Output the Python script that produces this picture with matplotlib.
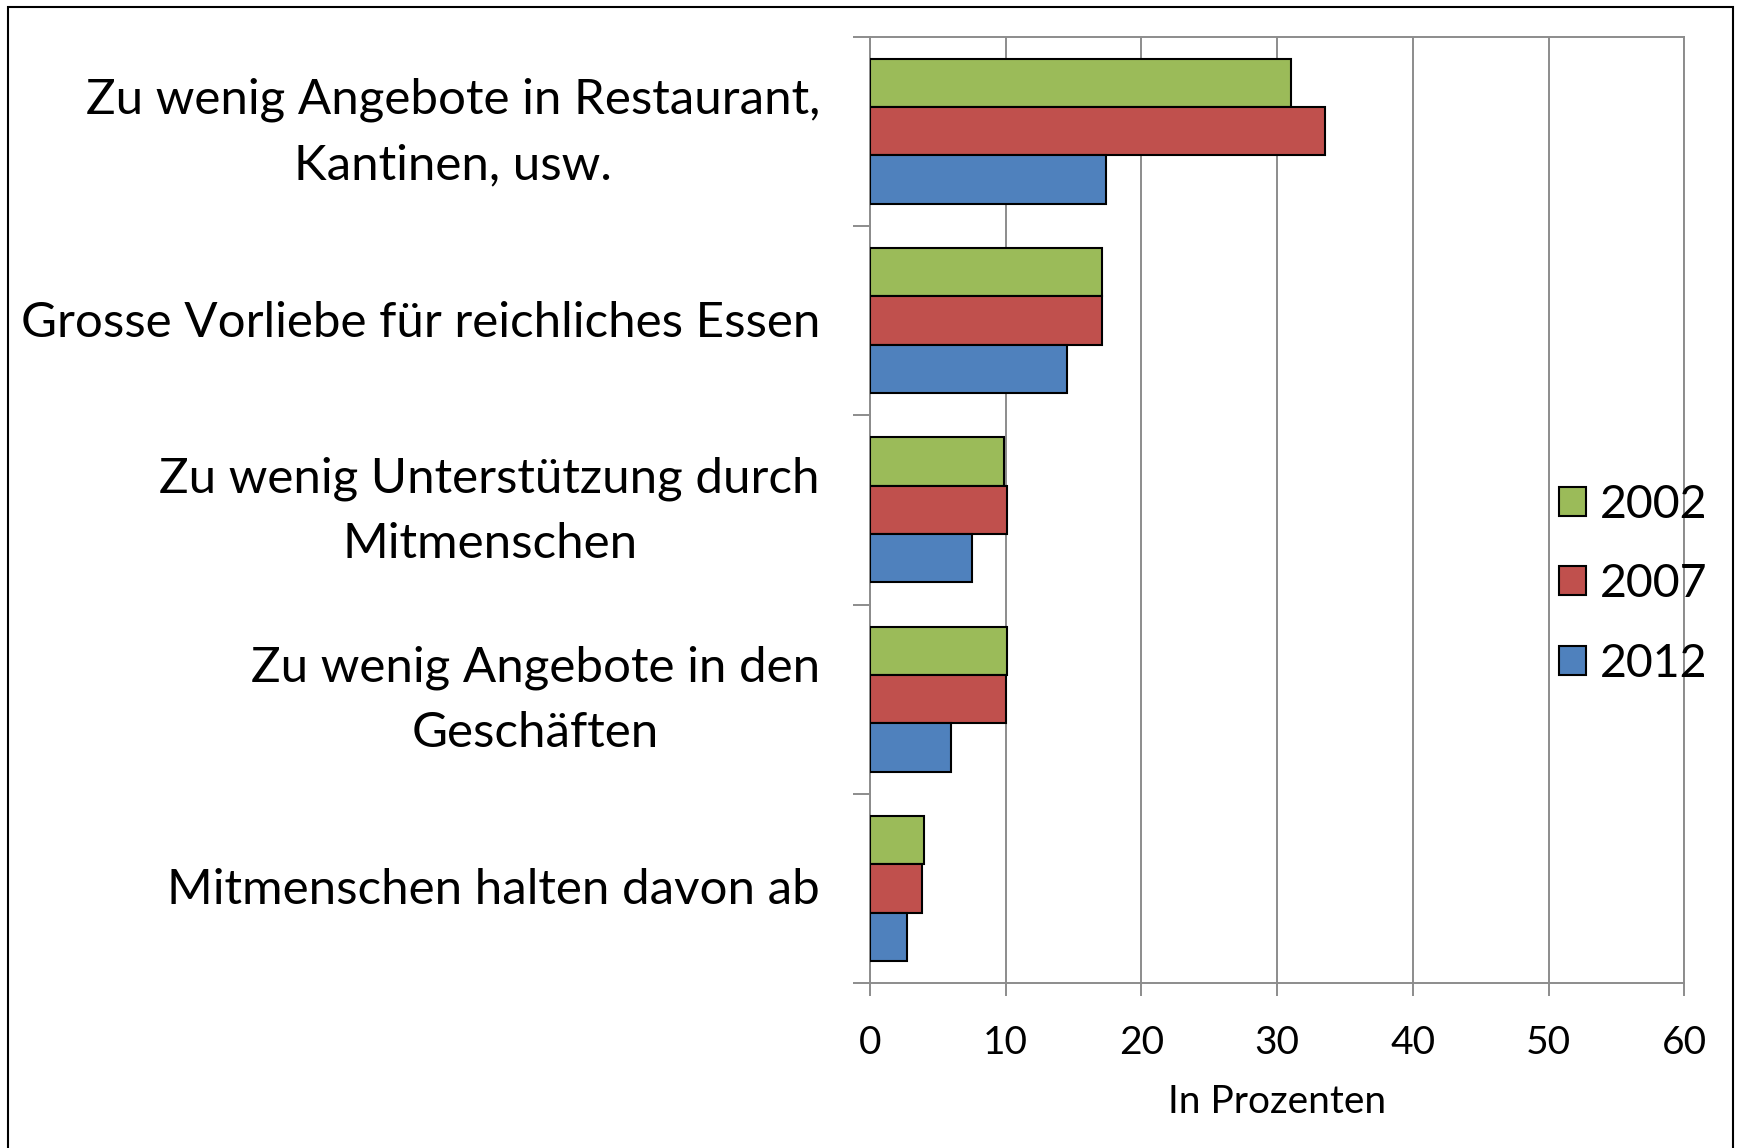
import matplotlib
matplotlib.use("Agg")
import matplotlib.pyplot as plt
from matplotlib.patches import Rectangle
from matplotlib.ticker import FixedLocator
from matplotlib.transforms import ScaledTranslation
import numpy as np

plt.rcParams['font.family'] = ['Lato', 'DejaVu Sans']

categories = [
    "Zu wenig Angebote in Restaurant,\nKantinen, usw.",
    "Grosse Vorliebe für reichliches Essen",
    "Zu wenig Unterstützung durch\nMitmenschen",
    "Zu wenig Angebote in den\nGeschäften",
    "Mitmenschen halten davon ab",
]
years = ["2002", "2007", "2012"]
values_2002 = [31.0, 17.1, 9.9, 10.1, 4.0]
values_2007 = [33.5, 17.1, 10.1, 10.0, 3.8]
values_2012 = [17.4, 14.5, 7.5, 6.0, 2.7]
colors = ["#9BBB59", "#C0504D", "#4F81BD"]
xticks = [0, 10, 20, 30, 40, 50, 60]
xlabel = "In Prozenten"

fig = plt.figure(figsize=(17.4, 11.48), dpi=100)
ax = fig.add_axes([0.5, 0.1437, 0.468, 0.8243])

y = np.arange(len(categories))
h = 0.255
series = [values_2002, values_2007, values_2012]
for i, (vals, col, yr) in enumerate(zip(series, colors, years)):
    ax.barh(y + (i - 1) * h, vals, height=h, color=col, edgecolor="black",
            linewidth=1.5, label=yr, zorder=3)

grid_col = "#8C8C8C"
ax.set_xlim(0, 60)
ax.set_ylim(len(categories) - 0.5, -0.5)
ax.set_xticks(xticks)
ax.set_xticklabels([str(t) for t in xticks], fontsize=28)
ax.xaxis.grid(True, color=grid_col, linewidth=1.4, zorder=0)
ax.tick_params(axis="x", direction="out", length=9.5, width=1.4, color=grid_col, pad=21)

ax.set_yticks(y)
ax.set_yticklabels(categories, fontsize=35.5, multialignment="center", linespacing=1.58)
ax.tick_params(axis="y", which="major", length=0, pad=36)
ax.yaxis.set_minor_locator(FixedLocator(np.arange(-0.5, len(categories), 1.0)))
ax.tick_params(axis="y", which="minor", direction="out", length=12, width=1.4, color=grid_col)

up_multi = ScaledTranslation(0, 9.5 / 72, fig.dpi_scale_trans)
up_single = ScaledTranslation(0, 1.5 / 72, fig.dpi_scale_trans)
for lbl in ax.get_yticklabels():
    shift = up_multi if "\n" in lbl.get_text() else up_single
    lbl.set_transform(lbl.get_transform() + shift)

for s in ax.spines.values():
    s.set_color(grid_col)
    s.set_linewidth(1.4)

ax.set_xlabel(xlabel, fontsize=28, labelpad=16)

leg = fig.legend(loc="center left", bbox_to_anchor=(0.896, 0.491), frameon=False,
                 fontsize=33.5, handlelength=0.58, handleheight=0.58, handletextpad=0.3,
                 labelspacing=0.8, borderpad=0, borderaxespad=0)

fig.patches.append(Rectangle((8 / 1740, -0.05), (1733 - 8) / 1740, 1.05 - 7 / 1148,
                             transform=fig.transFigure, fill=False, edgecolor="black",
                             linewidth=1.5))

fig.savefig("out.png", dpi=100, facecolor="white")
